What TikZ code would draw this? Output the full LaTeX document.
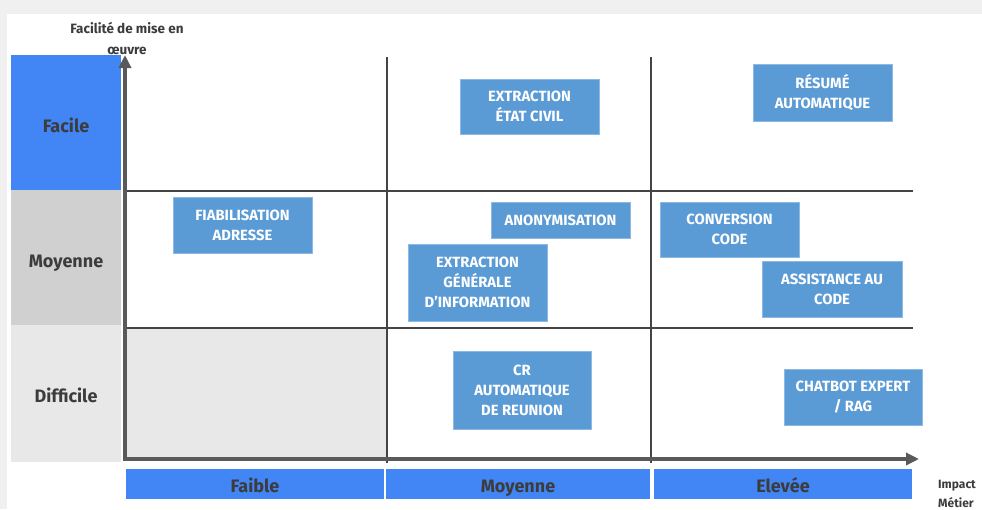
\documentclass[tikz,border=0pt]{standalone}
\usepackage{fontspec}
\setmainfont{Fira Sans}
\usetikzlibrary{arrows.meta}
\definecolor{bgout}{HTML}{F0F0F0}
\definecolor{gblue}{HTML}{4285F4}
\definecolor{iblue}{HTML}{5B9BD5}
\definecolor{iborder}{HTML}{8DB9E6}
\definecolor{midgrey}{HTML}{D0D0D0}
\definecolor{lightgrey}{HTML}{E8E8E8}
\definecolor{txt}{HTML}{3C3C3C}
\definecolor{axiscol}{HTML}{5A5A5A}
\definecolor{gridcol}{HTML}{444444}
\tikzset{
  itembox/.style={draw=iborder, line width=0.8pt, fill=iblue, text=white, align=center,
    font=\bfseries\fontsize{14.8}{20}\selectfont, inner sep=0pt},
  catlabel/.style={text=txt, font=\bfseries\fontsize{18}{20}\selectfont, anchor=base},
  axislabel/.style={text=txt, font=\bfseries\fontsize{13.5}{20}\selectfont, anchor=base},
  xaxislabel/.style={text=txt, font=\bfseries\fontsize{12}{20}\selectfont, anchor=base west, inner sep=0pt},
  axisline/.style={draw=axiscol, line width=4pt, -{Triangle[length=13pt,width=12pt]}},
  gridline/.style={draw=gridcol, line width=2pt},
}
\newcommand{\ibox}[6]{% name, x1, y1, x2, y2, text
  \node[itembox, minimum width={#4-#2}, minimum height={#5-#3}] (#1) at ({(#2+#4)/2},{(#3+#5)/2}) {#6};}
\begin{document}
\begin{tikzpicture}[x=1pt,y=-1pt]
\useasboundingbox (0,0) rectangle (982,509);
\fill[bgout] (0,0) rectangle (982,509);
\fill[white] (7,14) rectangle (982,509);
% left category boxes
\fill[gblue] (11,55) rectangle (121,190);
\fill[midgrey] (11,190) rectangle (121,325);
\fill[lightgrey] (11,325) rectangle (121,462);
\node[catlabel] (lfacile) at (66,132) {Facile};
\node[catlabel] (lmoy) at (66,267) {Moyenne};
\node[catlabel] (ldiff) at (66,402) {Difficile};
% bottom-left cell
\fill[lightgrey] (125,328) rectangle (387,459);
% grid
\coordinate (h1a) at (125,191); \coordinate (h1b) at (913,191);
\coordinate (h2a) at (125,328); \coordinate (h2b) at (913,328);
\coordinate (v1a) at (387,57); \coordinate (v1b) at (387,463);
\coordinate (v2a) at (651,57); \coordinate (v2b) at (651,463);
\draw[gridline] (h1a) -- (h1b);
\draw[gridline] (h2a) -- (h2b);
\draw[gridline] (v1a) -- (v1b);
\draw[gridline] (v2a) -- (v2b);
% axes
\coordinate (ybot) at (125,461);
\coordinate (xleft) at (123,459);
\coordinate (ytip) at (125,55);
\coordinate (xtip) at (919,459);
\draw[axisline] (ybot) -- (ytip);
\draw[axisline] (xleft) -- (xtip);
% axis titles
\node[axislabel] (ytitle1) at (127,33) {Facilité de mise en};
\node[axislabel] (ytitle2) at (127,54) {œuvre};
\node[xaxislabel] (xtitle1) at (938,488) {Impact};
\node[xaxislabel] (xtitle2) at (938,507) {Métier};
% bottom bars
\fill[gblue] (126,469) rectangle (384,499);
\fill[gblue] (386,469) rectangle (650,499);
\fill[gblue] (654,469) rectangle (912,499);
\node[catlabel] (bfaible) at (255,492) {Faible};
\node[catlabel] (bmoy) at (518,492) {Moyenne};
\node[catlabel] (belev) at (783,492) {Elevée};
% items
\ibox{etat}{460}{79}{599}{134}{EXTRACTION\\ÉTAT CIVIL}
\ibox{resume}{753}{64}{892}{121}{RÉSUMÉ\\AUTOMATIQUE}
\ibox{fiab}{173}{197}{312}{253}{FIABILISATION\\ADRESSE}
\ibox{anon}{491}{202}{630}{238}{ANONYMISATION}
\ibox{extgen}{408}{244}{547}{321}{EXTRACTION\\GÉNÉRALE\\D'INFORMATION}
\ibox{conv}{660}{202}{799}{257}{CONVERSION\\CODE}
\ibox{assist}{762}{261}{902}{317}{ASSISTANCE AU\\CODE}
\ibox{cr}{453}{351}{591}{429}{CR\\AUTOMATIQUE\\DE REUNION}
\ibox{chat}{784}{369}{922}{425}{CHATBOT EXPERT\\/ RAG}
\end{tikzpicture}
\end{document}
